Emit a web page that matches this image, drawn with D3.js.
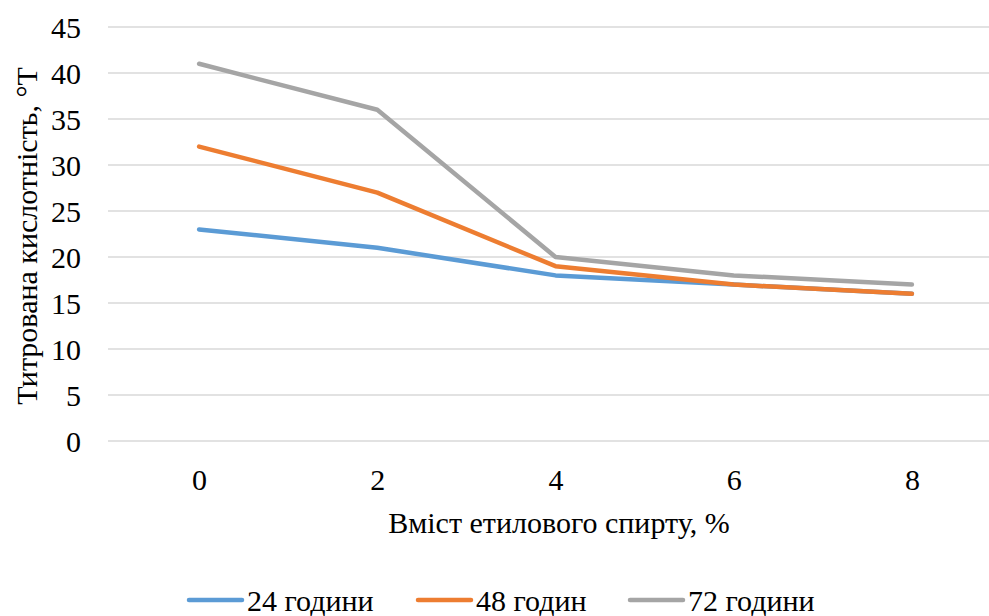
<!DOCTYPE html>
<html>
<head>
<meta charset="utf-8">
<script src="https://cdn.jsdelivr.net/npm/d3@7"></script>
</head>
<body style="margin:0;background:#fff;font-family:'Times New Roman', serif">
<svg id="chart" width="989" height="616" style="display:block"></svg>
<script>
// Ethanol content, % (x categories)
const categories = ["0", "2", "4", "6", "8"];
// Titratable acidity, °T, per fermentation time
const series24 = [23, 21, 18, 17, 16];
const series48 = [32, 27, 19, 17, 16];
const series72 = [41, 36, 20, 18, 17];
const seriesNames = ["24 години", "48 годин", "72 години"];
const seriesColors = ["#5B9BD5", "#ED7D31", "#A5A5A5"];
const yTicks = [0, 5, 10, 15, 20, 25, 30, 35, 40, 45];

const FONT = "Times New Roman";
const FS = 30;

const svg = d3.select("#chart").attr("font-family", FONT);
const W = 989;
const plot = { left: 110, right: 1001, top: 27, bottom: 441 };

const x = d3.scalePoint()
  .domain(categories)
  .range([plot.left, plot.right])
  .padding(0.5);

const y = d3.scaleLinear()
  .domain([0, 45])
  .range([plot.bottom, plot.top]);

// horizontal gridlines
svg.append("g")
  .selectAll("line")
  .data(yTicks)
  .join("line")
  .attr("x1", 108)
  .attr("x2", W)
  .attr("y1", d => y(d))
  .attr("y2", d => y(d))
  .attr("stroke", "#D9D9D9")
  .attr("stroke-width", 1.5);

// y tick labels
const yAxis = svg.append("g")
  .attr("transform", "translate(81,0)")
  .call(d3.axisLeft(y).tickValues(yTicks).tickSize(0).tickPadding(0));
yAxis.attr("font-family", null).attr("font-size", null);
yAxis.select(".domain").remove();
yAxis.selectAll("text")
  .attr("font-family", FONT)
  .attr("font-size", FS)
  .attr("fill", "#000")
  .attr("dy", "0.34em");

// x tick labels
const xAxis = svg.append("g")
  .attr("transform", `translate(0,${plot.bottom})`)
  .call(d3.axisBottom(x).tickSize(0).tickPadding(0));
xAxis.attr("font-family", null).attr("font-size", null);
xAxis.select(".domain").remove();
xAxis.selectAll("text")
  .attr("font-family", FONT)
  .attr("font-size", FS)
  .attr("fill", "#000")
  .attr("dy", null)
  .attr("y", 49);

// axis titles
svg.append("text")
  .attr("x", 559)
  .attr("y", 533)
  .attr("text-anchor", "middle")
  .attr("font-family", FONT)
  .attr("font-size", FS)
  .text("Вміст етилового спирту, %");

svg.append("text")
  .attr("transform", "translate(37,236) rotate(-90)")
  .attr("text-anchor", "middle")
  .attr("font-family", FONT)
  .attr("font-size", FS)
  .text("Титрована кислотність, °Т");

// series lines
const allSeries = [series24, series48, series72];
const line = d3.line()
  .x((d, i) => x(categories[i]))
  .y(d => y(d));

svg.append("g")
  .selectAll("path")
  .data(allSeries)
  .join("path")
  .attr("d", d => line(d))
  .attr("fill", "none")
  .attr("stroke", (d, i) => seriesColors[i])
  .attr("stroke-width", 4.5)
  .attr("stroke-linecap", "round")
  .attr("stroke-linejoin", "round");

// legend
const legendX = [189, 418, 630];
const legend = svg.append("g")
  .selectAll("g")
  .data(seriesNames)
  .join("g")
  .attr("transform", (d, i) => `translate(${legendX[i]},600)`);
legend.append("line")
  .attr("x1", 0).attr("x2", 53)
  .attr("y1", 0).attr("y2", 0)
  .attr("stroke", (d, i) => seriesColors[i])
  .attr("stroke-width", 4.5)
  .attr("stroke-linecap", "round");
legend.append("text")
  .attr("x", 58)
  .attr("y", 11)
  .attr("font-family", FONT)
  .attr("font-size", FS)
  .text(d => d);
</script>
</body>
</html>
